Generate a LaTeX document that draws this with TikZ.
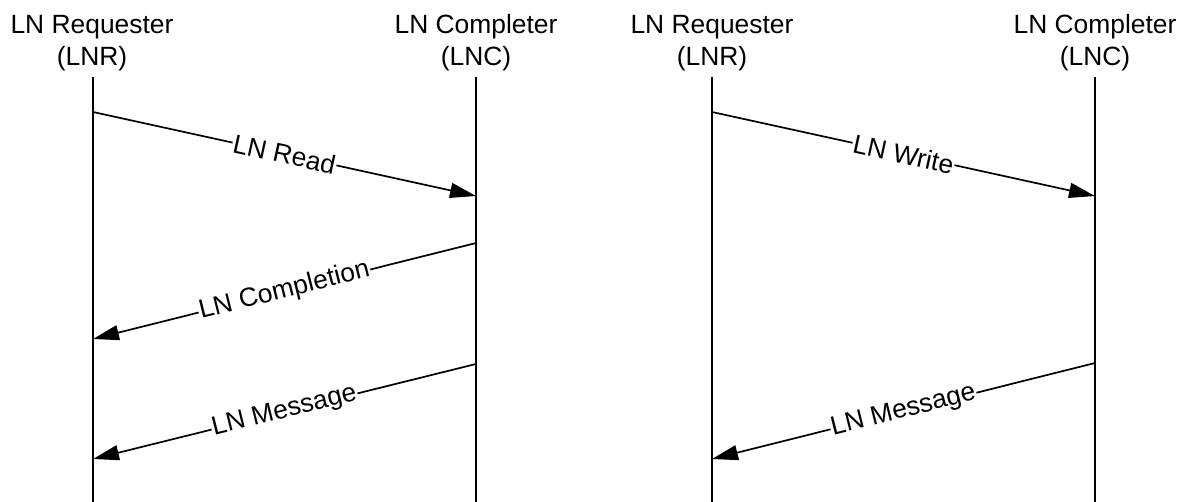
\documentclass[tikz,border=0pt]{standalone}
\usepackage{fontspec}
\setmainfont{Liberation Sans}
\usetikzlibrary{arrows.meta}
\begin{document}
\begin{tikzpicture}[x=1pt,y=-1pt,
  txt/.style={font=\fontsize{26.4}{32}\selectfont, inner sep=0pt, align=center},
  lifeline/.style={line width=1.7pt},
  msg/.style={line width=1.7pt, -{Triangle[length=26pt,width=15pt]}},
  lbl/.style={font=\fontsize{26.4}{31}\selectfont, fill=white, inner sep=1pt, sloped}]
\useasboundingbox (0,0) rectangle (1177,502);
% headers
\node[txt] (h1) at (92,43) {LN Requester\\(LNR)};
\node[txt] (h2) at (476,43) {LN Completer\\(LNC)};
\node[txt] (h3) at (712,43) {LN Requester\\(LNR)};
\node[txt] (h4) at (1095,43) {LN Completer\\(LNC)};
% lifelines
\coordinate (t1) at (93,77);   \coordinate (b1) at (93,502);
\coordinate (t2) at (476,77);  \coordinate (b2) at (476,502);
\coordinate (t3) at (712,77);  \coordinate (b3) at (712,502);
\coordinate (t4) at (1095,77); \coordinate (b4) at (1095,502);
\draw[lifeline] (t1) -- (b1);
\draw[lifeline] (t2) -- (b2);
\draw[lifeline] (t3) -- (b3);
\draw[lifeline] (t4) -- (b4);
% message endpoints
\coordinate (m1s) at (93,112);  \coordinate (m1e) at (476,196);
\coordinate (m2s) at (476,243); \coordinate (m2e) at (93,339);
\coordinate (m3s) at (476,364); \coordinate (m3e) at (93,459);
\coordinate (m4s) at (712,112); \coordinate (m4e) at (1095,196);
\coordinate (m5s) at (1095,363);\coordinate (m5e) at (712,459);
\draw[msg] (m1s) -- node[lbl] {LN Read} (m1e);
\draw[msg] (m2s) -- node[lbl] {LN Completion} (m2e);
\draw[msg] (m3s) -- node[lbl] {LN Message} (m3e);
\draw[msg] (m4s) -- node[lbl] {LN Write} (m4e);
\draw[msg] (m5s) -- node[lbl] {LN Message} (m5e);
\end{tikzpicture}
\end{document}
